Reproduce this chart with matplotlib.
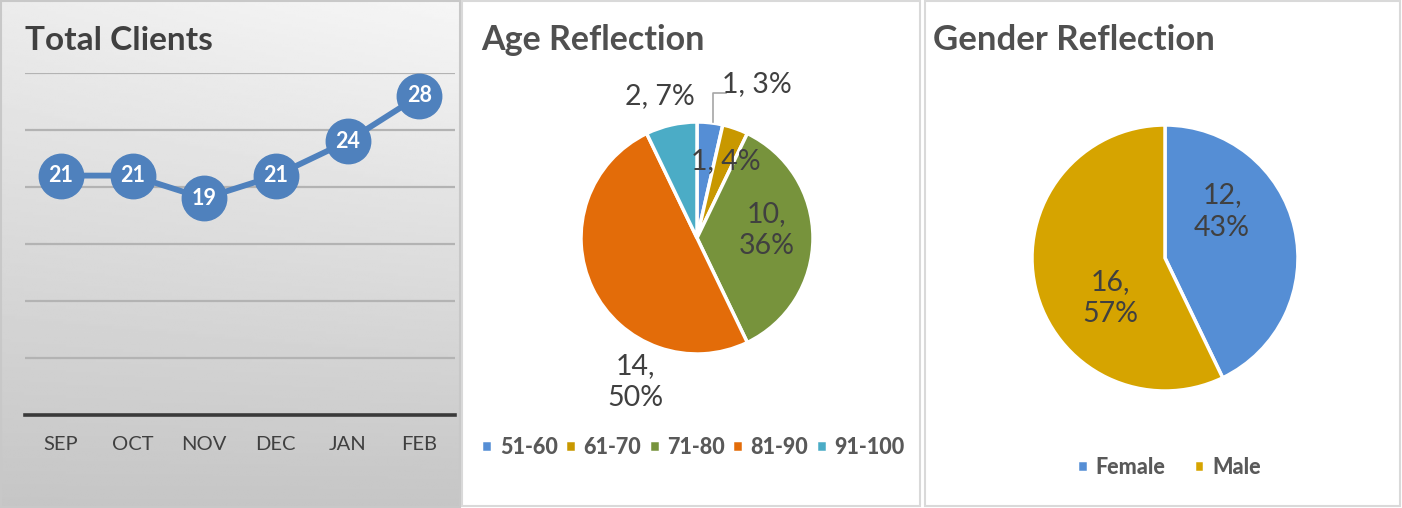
import numpy as np
import matplotlib.pyplot as plt
from matplotlib.patches import Rectangle

plt.rcParams['font.family'] = ['Lato', 'DejaVu Sans']

# data
months = ['SEP', 'OCT', 'NOV', 'DEC', 'JAN', 'FEB']
clients = [21, 21, 19, 21, 24, 28]

age_groups = ['51-60', '61-70', '71-80', '81-90', '91-100']
age_counts = [1, 1, 10, 14, 2]
age_labels = ['1, 3%', '1, 4%', '10,\n36%', '14,\n50%', '2, 7%']
age_colors = ['#558ed5', '#c89800', '#77933c', '#e36c09', '#4bacc6']

genders = ['Female', 'Male']
gender_counts = [12, 16]
gender_labels = ['12,\n43%', '16,\n57%']
gender_colors = ['#558ed5', '#d6a400']

W, H = 1402, 508
fig = plt.figure(figsize=(W / 100, H / 100), dpi=100)
fig.patch.set_facecolor('white')


def px_axes(x0, y0, x1, y1):
    return fig.add_axes([x0 / W, 1 - y1 / H, (x1 - x0) / W, (y1 - y0) / H])


def border(x0, y0, x1, y1, color='#d9d9d9'):
    fig.add_artist(Rectangle((x0 / W, 1 - y1 / H), (x1 - x0) / W, (y1 - y0) / H,
                             transform=fig.transFigure, fill=False,
                             edgecolor=color, linewidth=1.5))


# panel 1 background (gray gradient)
bg = px_axes(0, 0, 461, 508)
yy, xx = np.mgrid[0:1:200j, 0:1:200j]
grad = 0.965 - 0.19 * yy - 0.04 * (1 - xx) * (1 - yy)
bg.imshow(grad, cmap='gray', vmin=0, vmax=1, aspect='auto', extent=(0, 1, 1, 0))
bg.axis('off')
border(1, 1, 460, 507, '#c8c8c8')

# line chart
ax1 = px_axes(25, 73, 455, 415)
ax1.patch.set_alpha(0)
for s in ax1.spines.values():
    s.set_visible(False)
ax1.set_ylim(0, 30)
ax1.set_xlim(-0.5, len(months) - 0.5)
for g in range(5, 31, 5):
    ax1.axhline(g, color='#b3b3b3', lw=1.6, zorder=1)
ax1.axhline(0, color='#3a3a3a', lw=2.6, zorder=1, clip_on=False)
x = np.arange(len(months))
ax1.plot(x, clients, '-o', color='#4f81bd', lw=4.2, markersize=32, zorder=3, clip_on=False)
for xi, v in zip(x, clients):
    ax1.text(xi, v, str(v), ha='center', va='center', color='white',
             fontsize=15.5, fontweight='bold', zorder=4)
ax1.set_yticks([])
ax1.set_xticks(x)
ax1.set_xticklabels(months, fontsize=14.5, color='#404040')
ax1.tick_params(axis='x', length=0, pad=15)
fig.text(25 / W, 1 - 40 / H, 'Total Clients', ha='left', va='center',
         fontsize=24, fontweight='bold', color='#404040')

# age pie
border(462, 1, 920, 506)
cx, cy, R, S = 697, 238, 116, 190
ax2 = px_axes(cx - S, cy - S, cx + S, cy + S)
wedges, _ = ax2.pie(age_counts, colors=age_colors, startangle=90, counterclock=False,
                    wedgeprops=dict(edgecolor='white', linewidth=2.5))
ax2.set_xlim(-S / R, S / R)
ax2.set_ylim(-S / R, S / R)
age_pos = [(0.52, 1.33), (0.25, 0.66), (0.60, 0.07), (-0.53, -1.24), (-0.32, 1.22)]
for (px, py), lab in zip(age_pos, age_labels):
    ax2.text(px, py, lab, ha='center', va='center', fontsize=20.5, color='#404040',
             linespacing=1.3)
ax2.plot([0.14, 0.14, 0.25], [1.0, 1.25, 1.25], color='#a6a6a6', lw=1.2, clip_on=False)
fig.legend(wedges, age_groups, loc='center', bbox_to_anchor=(693 / W, 1 - 447 / H),
           ncol=5, frameon=False, handlelength=0.5, handleheight=0.5,
           handletextpad=0.35, columnspacing=0.35,
           prop=dict(family='Lato', weight='black', size=15.5), labelcolor='#595959')
fig.text(481 / W, 1 - 40 / H, 'Age Reflection', ha='left', va='center',
         fontsize=24.5, fontweight='bold', color='#505050')

# gender pie
border(925, 1, 1400, 506)
cx, cy, R, S = 1165, 258, 133, 200
ax3 = px_axes(cx - S, cy - S, cx + S, cy + S)
wedges2, _ = ax3.pie(gender_counts, colors=gender_colors, startangle=90, counterclock=False,
                     wedgeprops=dict(edgecolor='white', linewidth=2.5))
ax3.set_xlim(-S / R, S / R)
ax3.set_ylim(-S / R, S / R)
gender_pos = [(0.43, 0.35), (-0.41, -0.30)]
for (px, py), lab in zip(gender_pos, gender_labels):
    ax3.text(px, py, lab, ha='center', va='center', fontsize=20.5, color='#404040',
             linespacing=1.3)
fig.legend(wedges2, genders, loc='center', bbox_to_anchor=(1169 / W, 1 - 467 / H),
           ncol=2, frameon=False, handlelength=0.5, handleheight=0.5,
           handletextpad=0.35, columnspacing=1.3,
           prop=dict(family='Lato', weight='black', size=15.5), labelcolor='#595959')
fig.text(933 / W, 1 - 40 / H, 'Gender Reflection', ha='left', va='center',
         fontsize=25, fontweight='bold', color='#505050')

fig.savefig('out.png', dpi=100)
